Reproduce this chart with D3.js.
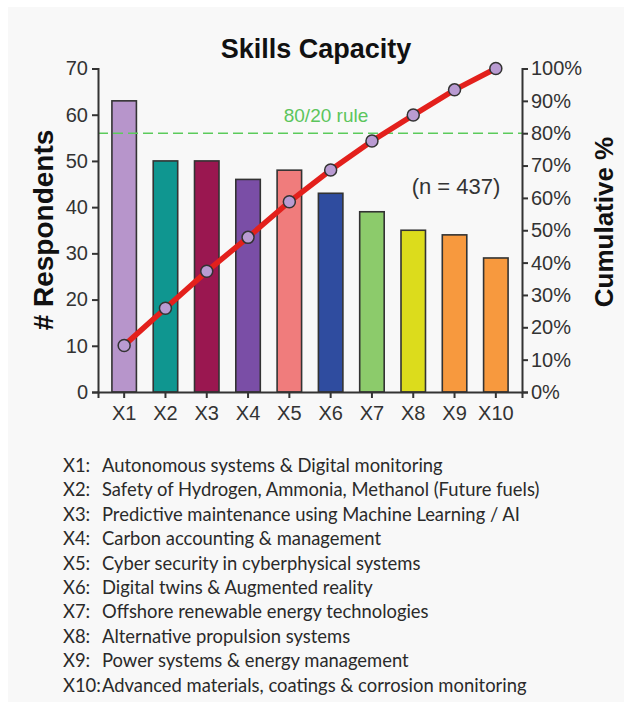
<!DOCTYPE html>
<html>
<head>
<meta charset="utf-8">
<script src="https://cdn.jsdelivr.net/npm/d3@7"></script>
<style>
  body { margin: 0; background: #fff; }
  text { font-family: "Liberation Sans", Arial, sans-serif; }
</style>
</head>
<body>
<script>
var categories = ["X1", "X2", "X3", "X4", "X5", "X6", "X7", "X8", "X9", "X10"];
var respondents = [63, 50, 50, 46, 48, 43, 39, 35, 34, 29];
var cumulative = [14.4, 25.9, 37.3, 47.8, 58.8, 68.6, 77.6, 85.6, 93.4, 100];
var barColors = ["#b795cb", "#0f9690", "#9a1750", "#7a4ea6", "#f07c7c",
                 "#2f4c9f", "#8ccb6b", "#dcdc1c", "#f7993e", "#f7993e"];
var leftTicks = [0, 10, 20, 30, 40, 50, 60, 70];
var rightTicks = [0, 10, 20, 30, 40, 50, 60, 70, 80, 90, 100];
var legendLabels = ["X1:", "X2:", "X3:", "X4:", "X5:", "X6:", "X7:", "X8:", "X9:", "X10:"];
var legendTexts = [
  "Autonomous systems & Digital monitoring",
  "Safety of Hydrogen, Ammonia, Methanol (Future fuels)",
  "Predictive maintenance using Machine Learning / AI",
  "Carbon accounting & management",
  "Cyber security in cyberphysical systems",
  "Digital twins & Augmented reality",
  "Offshore renewable energy technologies",
  "Alternative propulsion systems",
  "Power systems & energy management",
  "Advanced materials, coatings & corrosion monitoring"
];
var ruleLevel = 80;

var W = 624, H = 702;
var margin = { top: 68.5, right: 102, bottom: 310, left: 98 };
var width = W - margin.left - margin.right;
var height = H - margin.top - margin.bottom;

var root = d3.select("body").append("svg")
    .attr("width", W)
    .attr("height", H);

root.append("rect")
    .attr("x", 8).attr("y", 7)
    .attr("width", W - 8).attr("height", H - 7)
    .attr("fill", "#f8f8f8");

var svg = root.append("g")
    .attr("transform", "translate(" + margin.left + "," + margin.top + ")");

var x = d3.scaleBand()
    .domain(categories)
    .range([0, width])
    .paddingInner(0.407)
    .paddingOuter(0.337);

var y = d3.scaleLinear()
    .domain([0, 70])
    .range([height, 0]);

var y2 = d3.scaleLinear()
    .domain([0, 100])
    .range([height, 0]);

// bars
svg.selectAll(".bar")
    .data(respondents)
    .enter()
    .append("rect")
    .attr("class", "bar")
    .attr("x", function(d, i) { return x(categories[i]); })
    .attr("y", function(d) { return y(d); })
    .attr("width", x.bandwidth())
    .attr("height", function(d) { return height - y(d); })
    .attr("fill", function(d, i) { return barColors[i]; })
    .attr("stroke", "#333")
    .attr("stroke-width", 1.6);

// 80/20 line
svg.append("line")
    .attr("x1", 0).attr("x2", width)
    .attr("y1", y2(ruleLevel)).attr("y2", y2(ruleLevel))
    .attr("stroke", "#5ccb5c")
    .attr("stroke-width", 1.5)
    .attr("stroke-dasharray", "10,5");

svg.append("text")
    .attr("x", 228)
    .attr("y", y2(ruleLevel) - 11)
    .attr("text-anchor", "middle")
    .attr("fill", "#5cc55c")
    .attr("font-size", "19px")
    .text("80/20 rule");

svg.append("text")
    .attr("x", 358)
    .attr("y", 125)
    .attr("text-anchor", "middle")
    .attr("fill", "#333")
    .attr("font-size", "22px")
    .text("(n = 437)");

// axes
var axisLeft = svg.append("g")
    .call(d3.axisLeft(y).tickValues(leftTicks).tickSize(6).tickPadding(4));
var axisRight = svg.append("g")
    .attr("transform", "translate(" + width + ",0)")
    .call(d3.axisRight(y2).tickValues(rightTicks).tickSize(6).tickPadding(3)
        .tickFormat(function(d) { return d + "%"; }));
var axisBottom = svg.append("g")
    .attr("transform", "translate(0," + height + ")")
    .call(d3.axisBottom(x).tickSize(6).tickPadding(8));

[axisLeft, axisRight, axisBottom].forEach(function(a) {
  a.select(".domain").attr("stroke", "#333").attr("stroke-width", 2);
  a.selectAll(".tick line").attr("stroke", "#333").attr("stroke-width", 2);
  a.selectAll(".tick text")
      .attr("fill", "#333")
      .attr("font-size", "20px")
      .style("font-family", "'Liberation Sans', Arial, sans-serif");
});

// cumulative line
var line = d3.line()
    .x(function(d, i) { return x(categories[i]) + x.bandwidth() / 2; })
    .y(function(d) { return y2(d); });

svg.append("path")
    .datum(cumulative)
    .attr("d", line)
    .attr("fill", "none")
    .attr("stroke", "#e3201c")
    .attr("stroke-width", 5.5);

svg.selectAll(".dot")
    .data(cumulative)
    .enter()
    .append("circle")
    .attr("class", "dot")
    .attr("cx", function(d, i) { return x(categories[i]) + x.bandwidth() / 2; })
    .attr("cy", function(d) { return y2(d); })
    .attr("r", 6)
    .attr("fill", "#b99bd2")
    .attr("stroke", "#333")
    .attr("stroke-width", 1.5);

// titles
root.append("text")
    .attr("x", 316)
    .attr("y", 58)
    .attr("text-anchor", "middle")
    .attr("font-size", "27px")
    .attr("font-weight", "bold")
    .attr("fill", "#111")
    .text("Skills Capacity");

root.append("text")
    .attr("transform", "translate(53,230) rotate(-90)")
    .attr("text-anchor", "middle")
    .attr("font-size", "28px")
    .attr("font-weight", "bold")
    .attr("fill", "#111")
    .text("# Respondents");

root.append("text")
    .attr("transform", "translate(613,222) rotate(-90)")
    .attr("text-anchor", "middle")
    .attr("font-size", "26px")
    .attr("font-weight", "bold")
    .attr("fill", "#111")
    .text("Cumulative %");

// legend
var legend = root.append("g").attr("class", "legend");
legend.selectAll(".lab")
    .data(legendLabels)
    .enter()
    .append("text")
    .attr("x", 63)
    .attr("y", function(d, i) { return 472 + i * 24.4; })
    .attr("font-size", "18.4px")
    .attr("fill", "#2a2a2a")
    .style("font-family", "Lato, sans-serif")
    .text(function(d) { return d; });
legend.selectAll(".desc")
    .data(legendTexts)
    .enter()
    .append("text")
    .attr("x", 102)
    .attr("y", function(d, i) { return 472 + i * 24.4; })
    .attr("font-size", "18.4px")
    .attr("fill", "#2a2a2a")
    .style("font-family", "Lato, sans-serif")
    .text(function(d) { return d; });
</script>
</body>
</html>
